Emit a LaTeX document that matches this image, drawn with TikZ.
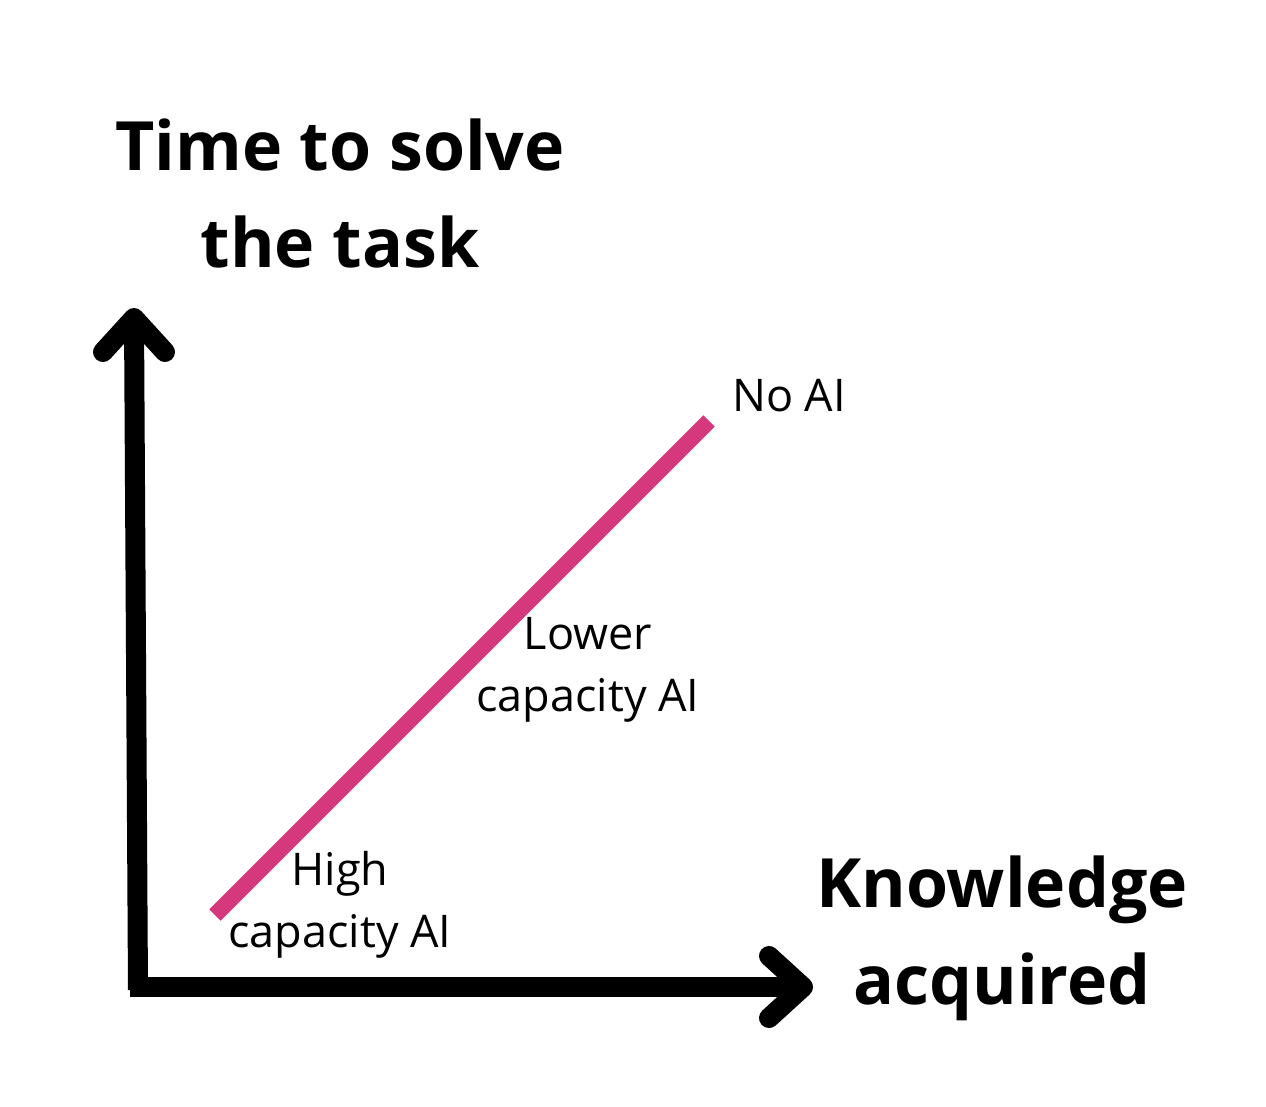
\documentclass[tikz,border=0pt]{standalone}
\usepackage{fontspec}
\setmainfont{Open Sans}
\usetikzlibrary{positioning}
\definecolor{aipink}{HTML}{D6387D}

\begin{document}
\begin{tikzpicture}[x=1pt,y=-1pt,
		axisline/.style={line width=20pt,line cap=butt},
		axishead/.style={line width=20pt,line cap=round,line join=round},
		trendline/.style={draw=aipink,line width=16pt,line cap=butt},
		axislabel/.style={font=\bfseries\fontsize{68}{97}\selectfont,align=center,inner sep=0pt},
		pointlabel/.style={font=\fontsize{45}{62}\selectfont,align=center,inner sep=0pt}
		]
		\useasboundingbox (0,0) rectangle (1266,1106);
		% axes
		\coordinate (ybottom) at (138,990);
		\coordinate (ytip) at (134,318);
		\coordinate (xstart) at (130,987);
		\coordinate (xtip) at (803,987);
		\draw[axisline] (ybottom) -- (ytip);
		\draw[axisline] (xstart) -- (xtip);
		\draw[axishead] (ytip) ++(-31,34) -- (ytip) -- ++(31,34);
		\draw[axishead] (xtip) ++(-34,-31) -- (xtip) -- ++(-34,31);
		\node (ylabel) [axislabel] at (340,193) {Time to solve\\the task};
		\node (xlabel) [axislabel] at (1002,938) {Knowledge\\acquired};
		% the line
		\coordinate (highend) at (215,915);
		\coordinate (noaiend) at (709,421);
		\draw[trendline] (highend) -- (noaiend);
		\node (noai) [pointlabel,anchor=base] at (789,411) {No AI};
		\node (lower) [pointlabel] at (588,670) {Lower\\capacity AI};
		\node (high) [pointlabel] at (340,905) {High\\capacity AI};
\end{tikzpicture}
\end{document}
